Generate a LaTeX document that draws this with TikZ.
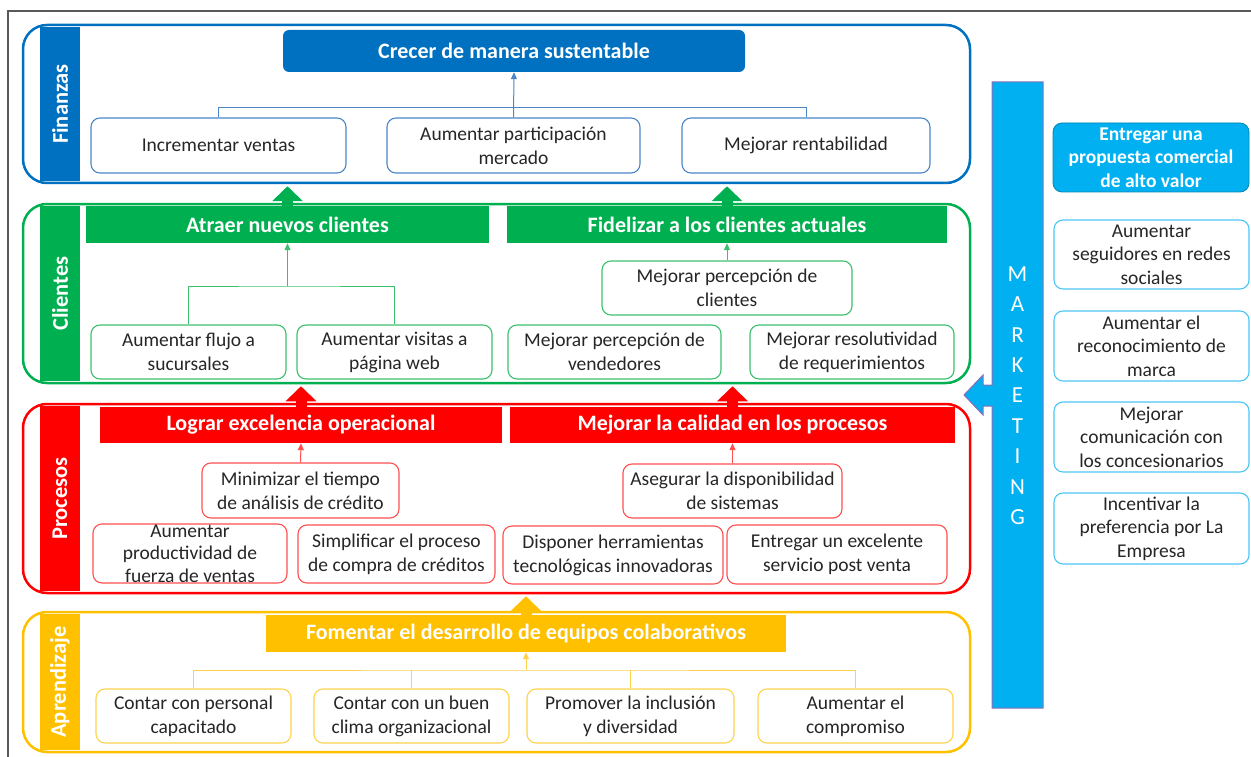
\documentclass[tikz,border=0pt]{standalone}
\usepackage{fontspec}
\setmainfont{Carlito}
\usetikzlibrary{arrows.meta,calc}
\definecolor{cfin}{HTML}{0070C0}
\definecolor{cfinl}{HTML}{4A86C8}
\definecolor{ccli}{HTML}{00B050}
\definecolor{cclil}{HTML}{3DC06E}
\definecolor{cpro}{HTML}{FF0000}
\definecolor{cprol}{HTML}{FF5050}
\definecolor{capr}{HTML}{FFC000}
\definecolor{caprl}{HTML}{FFD24D}
\definecolor{cmkt}{HTML}{00B0F0}
\definecolor{cmktl}{HTML}{4CC6F4}
\definecolor{cframe}{HTML}{595959}
\definecolor{ctext}{HTML}{262626}
\definecolor{cpurple}{HTML}{8A6FB8}
\begin{document}
\begin{tikzpicture}[x=1pt,y=-1pt,
 body/.style={font=\fontsize{19.5}{24}\selectfont, text=ctext},
 panel/.style={draw=#1, line width=2.5pt, rounded corners=24pt, minimum width=947pt, inner sep=0pt},
 band/.style={fill=#1, minimum width=40pt, inner sep=0pt},
 bandlabel/.style={rotate=90, text=white, font=\fontsize{22.5}{26}\bfseries\selectfont},
 bar/.style={fill=#1, text=white, font=\fontsize{22}{26}\bfseries\selectfont, inner sep=0pt},
 box/.style={draw=#1, fill=white, line width=1.1pt, rounded corners=9pt, inner sep=0pt, align=center, body},
 conn/.style={draw=#1, line width=1pt},
 arr/.style={draw=#1, line width=1pt, -{Triangle[width=6pt,length=7pt]}},
 big/.style={draw=#1, line width=11pt, -{Triangle[width=30pt,length=15pt]}},
]
\useasboundingbox (0,0) rectangle (1251,757);
% frame
\draw[cframe, line width=2pt] (1251,11) -- (8,11) -- (8,757);

% ---------- Finanzas ----------
\node[band=cfin, minimum height=154pt] (finb) at (60,104) {};
\node[panel=cfin, minimum height=158pt] (fin) at (496.5,104) {};
\node[bandlabel] at (finb) {Finanzas};
\node[fill=cfin, rounded corners=6pt, minimum width=462pt, minimum height=42pt, inner sep=0pt, text=white, font=\fontsize{22}{26}\bfseries\selectfont] (crecer) at (514,51) {Crecer de manera sustentable};
\node[box=cfinl, minimum width=255pt, minimum height=55pt] (fin1) at (218.5,145.5) {Incrementar ventas};
\node[box=cfinl, minimum width=253pt, minimum height=55pt] (fin2) at (513.5,145.5) {Aumentar participación\\mercado};
\node[box=cfinl, minimum width=248pt, minimum height=55pt] (fin3) at (806,145.5) {Mejorar rentabilidad};
\draw[conn=cfinl] (fin1.north) -- ++(0,-10) -| (fin3.north);
\draw[arr=cfinl] (fin2.north) -- (crecer.south);

% ---------- Clientes ----------
\node[band=ccli, minimum height=175pt] (clib) at (60,293.5) {};
\node[panel=ccli, minimum height=179pt] (cli) at (496.5,293.5) {};
\node[bandlabel] at (clib) {Clientes};
\node[bar=ccli, minimum width=403pt, minimum height=37pt] (bar1) at (287.5,224.5) {Atraer nuevos clientes};
\node[bar=ccli, minimum width=440pt, minimum height=37pt] (bar2) at (727,224.5) {Fidelizar a los clientes actuales};
\node[box=cclil, minimum width=195pt, minimum height=54pt] (cli1) at (188.5,352) {Aumentar flujo a\\sucursales};
\node[box=cclil, minimum width=195pt, minimum height=54pt] (cli2) at (394.5,352) {Aumentar visitas a\\página web};
\node[box=cclil, minimum width=250pt, minimum height=54pt] (cli3) at (727,288) {Mejorar percepción de\\clientes};
\node[box=cclil, minimum width=213pt, minimum height=54pt] (cli4) at (614.5,352) {Mejorar percepción de\\vendedores};
\node[box=cclil, minimum width=204pt, minimum height=54pt] (cli5) at (852,352) {Mejorar resolutividad\\de requerimientos};
\coordinate (cj) at (287.5,286);
\draw[conn=cclil] (cli1.north) |- (cj) -| (cli2.north);
\draw[arr=cclil] (cj) -- (bar1.south);
\draw[arr=cclil] (cli3.north) -- (bar2.south);

% ---------- Procesos ----------
\node[band=cpro, minimum height=185pt] (prob) at (60,498.5) {};
\node[panel=cpro, minimum height=189pt] (pro) at (496.5,498.5) {};
\node[bandlabel] at (prob) {Procesos};
\node[bar=cpro, minimum width=402pt, minimum height=36pt] (bar3) at (301,425) {Lograr excelencia operacional};
\node[bar=cpro, minimum width=445pt, minimum height=36pt] (bar4) at (732.5,425) {Mejorar la calidad en los procesos};
\node[box=cprol, minimum width=197pt, minimum height=55pt] (pro1) at (300.5,490.5) {Minimizar el tiempo\\de análisis de crédito};
\node[box=cprol, minimum width=194pt, minimum height=59pt] (pro2) at (190,553.5) {};
\node[text=ctext, align=center, inner sep=0pt, font=\fontsize{19.5}{22.5}\selectfont] at (pro2) {Aumentar\\productividad de\\fuerza de ventas};
\node[box=cprol, minimum width=197pt, minimum height=58pt] (pro3) at (396.5,554) {Simplificar el proceso\\de compra de créditos};
\node[box=cprol, minimum width=219pt, minimum height=54pt] (pro4) at (732.5,491) {Asegurar la disponibilidad\\de sistemas};
\node[box=cprol, minimum width=220pt, minimum height=58pt] (pro5) at (613,555) {Disponer herramientas\\tecnológicas innovadoras};
\node[box=cprol, minimum width=220pt, minimum height=59pt] (pro6) at (837,554.5) {Entregar un excelente\\servicio post venta};
\draw[arr=cprol] (pro1.north) -- (bar3.south);
\draw[arr=cprol] (pro4.north) -- (bar4.south);

% ---------- Aprendizaje ----------
\node[band=capr, minimum height=136pt] (aprb) at (60,682) {};
\node[panel=capr, minimum height=140pt] (apr) at (496.5,682) {};
\node[bandlabel] at (aprb) {Aprendizaje};
\node[bar=capr, minimum width=520pt, minimum height=37pt] (bar5) at (526,633.5) {Fomentar el desarrollo de equipos colaborativos};
\node[box=caprl, minimum width=195pt, minimum height=54pt] (apr1) at (193.5,716) {Contar con personal\\capacitado};
\node[box=caprl, minimum width=195pt, minimum height=54pt] (apr2) at (411.5,716) {Contar con un buen\\clima organizacional};
\node[box=caprl, minimum width=207pt, minimum height=54pt] (apr3) at (630.5,716) {Promover la inclusión\\y diversidad};
\node[box=caprl, minimum width=195pt, minimum height=54pt] (apr4) at (855.5,716) {Aumentar el\\compromiso};
\coordinate (aj) at (526,670);
\draw[conn=caprl] (apr1.north) |- (aj) -| (apr4.north);
\draw[conn=caprl] (apr2.north) -- (apr2.north |- aj);
\draw[conn=caprl] (apr3.north) -- (apr3.north |- aj);
\draw[arr=caprl] (aj) -- (bar5.south);

% ---------- big arrows between perspectives ----------
\draw[big=ccli] (bar1.north) -- ($(bar1.north |- fin.south)+(0,2)$);
\draw[big=ccli] (bar2.north) -- ($(bar2.north |- fin.south)+(0,2)$);
\draw[big=cpro] (bar3.north) -- ($(bar3.north |- cli.south)+(0,2)$);
\draw[big=cpro] (bar4.north) -- ($(bar4.north |- cli.south)+(0,2)$);
\draw[big=capr] (bar5.north) -- ($(bar5.north |- pro.south)+(0,2)$);

% ---------- Marketing ----------
\path[fill=cmkt, draw=cpurple, line width=1pt]
  (1043,82) -- (992,82) -- (992,385) -- (983,385) -- (983,375) -- (964,395)
  -- (983,415) -- (983,406) -- (992,406) -- (992,708) -- (1043,708) -- cycle;
\foreach \l [count=\i from 0] in {M,A,R,K,E,T,I,N,G}
  \node[text=white, font=\fontsize{23}{23}\selectfont, inner sep=0pt] at (1017.5,274+30.4*\i) {\l};

\node[fill=cmkt, draw=cmkt!75!black, line width=0.8pt, rounded corners=9pt, minimum width=196pt, minimum height=69pt, inner sep=0pt, align=center, text=white, font=\fontsize{19.5}{23.5}\bfseries\selectfont] (mk0) at (1151,157.5) {Entregar una\\propuesta comercial\\de alto valor};
\node[box=cmktl, minimum width=195pt, minimum height=69pt, font=\fontsize{19.5}{23.5}\selectfont] (mk1) at (1151.5,254.5) {Aumentar\\seguidores en redes\\sociales};
\node[box=cmktl, minimum width=195pt, minimum height=70pt, font=\fontsize{19.5}{23.5}\selectfont] (mk2) at (1151.5,346) {Aumentar el\\reconocimiento de\\marca};
\node[box=cmktl, minimum width=195pt, minimum height=70pt, font=\fontsize{19.5}{23.5}\selectfont] (mk3) at (1151.5,437) {Mejorar\\comunicación con\\los concesionarios};
\node[box=cmktl, minimum width=195pt, minimum height=71pt, font=\fontsize{19.5}{23.5}\selectfont] (mk4) at (1151.5,528.5) {Incentivar la\\preferencia por La\\Empresa};
\end{tikzpicture}
\end{document}
